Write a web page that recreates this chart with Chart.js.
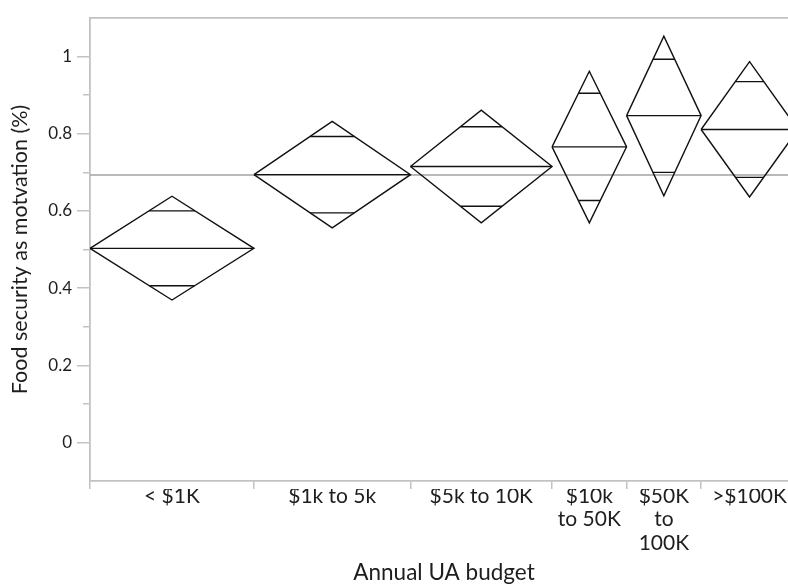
<!DOCTYPE html>
<html>
<head>
<meta charset="utf-8">
<script src="https://cdn.jsdelivr.net/npm/chart.js@4.4.1/dist/chart.umd.min.js"></script>
<style>
  html, body { margin: 0; padding: 0; background: #fff; overflow: hidden; }
  #wrap { width: 788px; height: 585px; overflow: hidden; position: relative; }
  canvas { display: block; }
</style>
</head>
<body>
<div id="wrap"><canvas id="c" width="800" height="585"></canvas></div>
<script>
// Budget groups and their tick labels
const categories = ['< $1K', '$1k to 5k', '$5k to 10K', '$10k to 50K', '$50K to 100K', '>$100K'];
const tickLabels = [['< $1K'], ['$1k to 5k'], ['$5k to 10K'], ['$10k', 'to 50K'], ['$50K', 'to', '100K'], ['>$100K']];

// Group sizes (diamond widths), means and 95% confidence limits
const groupSizes   = [22, 21, 19, 10, 10, 13];
const groupMeans   = [0.503, 0.694, 0.715, 0.766, 0.847, 0.811];
const ciUpper      = [0.638, 0.832, 0.861, 0.962, 1.053, 0.987];
const ciLower      = [0.369, 0.556, 0.569, 0.569, 0.639, 0.636];
// Overlap marks inside each diamond
const overlapUpper = [0.600, 0.793, 0.818, 0.905, 0.993, 0.935];
const overlapLower = [0.406, 0.595, 0.612, 0.627, 0.700, 0.687];
const grandMean = 0.693;

// Y axis ticks
const yMajorTicks = [0, 0.2, 0.4, 0.6, 0.8, 1];
const yMinorTicks = [0.1, 0.3, 0.5, 0.7, 0.9];
const yTickText   = ['0', '0.2', '0.4', '0.6', '0.8', '1'];

// Group extents along the x scale (width proportional to group size)
const total = groupSizes.reduce((a, b) => a + b, 0);
const starts = [];
let acc = 0;
groupSizes.forEach(n => { starts.push(acc); acc += n; });
const bounds = starts.concat([total]);
const centers = starts.map((s, i) => s + groupSizes[i] / 2);

const FONT = 'Lato, "Open Sans", sans-serif';
const AXIS_GRAY = '#c2c2c2';
const INK = '#111';
const TEXT = '#1e1e1e';

const datasets = [];
datasets.push({
  label: 'Grand mean',
  data: [{ x: 0, y: grandMean }, { x: total, y: grandMean }],
  borderColor: '#a2a2a2',
  borderWidth: 1.6,
  order: 10
});

categories.forEach((cat, i) => {
  const l = starts[i], r = l + groupSizes[i], c = centers[i], m = groupMeans[i];
  const half = groupSizes[i] / 2;
  // diamond outline
  datasets.push({
    label: cat,
    data: [{ x: l, y: m }, { x: c, y: ciUpper[i] }, { x: r, y: m }, { x: c, y: ciLower[i] }, { x: l, y: m }],
    borderColor: INK,
    borderWidth: 1.4,
    order: 1
  });
  // mean line and overlap marks; the diamond narrows linearly toward its tips
  const hu = half * (ciUpper[i] - overlapUpper[i]) / (ciUpper[i] - m);
  const hl = half * (overlapLower[i] - ciLower[i]) / (m - ciLower[i]);
  datasets.push({
    label: cat + ' marks',
    data: [
      { x: l, y: m }, { x: r, y: m }, { x: c, y: null },
      { x: c - hu, y: overlapUpper[i] }, { x: c + hu, y: overlapUpper[i] }, { x: c, y: null },
      { x: c - hl, y: overlapLower[i] }, { x: c + hl, y: overlapLower[i] }
    ],
    borderColor: INK,
    borderWidth: 1.4,
    spanGaps: false,
    order: 1
  });
});

new Chart(document.getElementById('c'), {
  type: 'line',
  data: { datasets },
  options: {
    responsive: false,
    animation: false,
    devicePixelRatio: 1,
    layout: { padding: { top: 10, right: 2, left: 0, bottom: 0 } },
    elements: { point: { radius: 0, hoverRadius: 0 }, line: { tension: 0, fill: false } },
    plugins: { legend: { display: false }, tooltip: { enabled: false } },
    scales: {
      x: {
        type: 'linear', position: 'bottom', weight: 2,
        min: 0, max: total,
        grid: { display: false, drawTicks: false },
        border: { display: false },
        afterBuildTicks: s => { s.ticks = centers.map(v => ({ value: v })); },
        afterFit: s => { s.height = 96; },
        ticks: {
          autoSkip: false, maxRotation: 0, minRotation: 0, padding: -4,
          color: TEXT, font: { family: FONT, size: 21, lineHeight: 1.1 },
          callback: (v, i) => tickLabels[i]
        },
        title: {
          display: true, text: 'Annual UA budget', color: TEXT,
          font: { family: FONT, size: 22.5, lineHeight: 1.1 }, padding: { top: 0, bottom: 0 }
        }
      },
      xb: {
        type: 'linear', position: 'bottom', weight: 1,
        min: 0, max: total,
        afterBuildTicks: s => { s.ticks = bounds.map(v => ({ value: v })); },
        grid: { display: true, drawOnChartArea: false, drawTicks: true, tickLength: 8, color: AXIS_GRAY, lineWidth: 1.5 },
        border: { display: true, color: AXIS_GRAY, width: 1.8 },
        ticks: { display: false }
      },
      xTop: {
        type: 'linear', position: 'top',
        min: 0, max: total,
        grid: { display: false },
        border: { display: true, color: AXIS_GRAY, width: 1.8 },
        ticks: { display: false }
      },
      yMinor: {
        type: 'linear', position: 'left', weight: 1,
        min: -0.1, max: 1.1,
        afterBuildTicks: s => { s.ticks = yMajorTicks.concat(yMinorTicks).map(v => ({ value: v })); },
        grid: { display: true, drawOnChartArea: false, drawTicks: true, tickLength: 7, color: AXIS_GRAY, lineWidth: 1.5 },
        border: { display: true, color: AXIS_GRAY, width: 1.8 },
        ticks: { display: false }
      },
      y: {
        type: 'linear', position: 'left', weight: 2,
        min: -0.1, max: 1.1,
        afterBuildTicks: s => { s.ticks = yMajorTicks.map(v => ({ value: v })); },
        afterFit: s => { s.width = 83; },
        grid: { display: true, drawOnChartArea: false, drawTicks: true, tickLength: 6, color: AXIS_GRAY, lineWidth: 1.5 },
        border: { display: false },
        ticks: {
          padding: 5, color: TEXT, font: { family: FONT, size: 17 },
          callback: (v, i) => yTickText[i]
        },
        title: {
          display: true, text: 'Food security as motvation (%)', color: TEXT,
          font: { family: FONT, size: 21.5, lineHeight: 1.2 }, padding: { top: 7, bottom: 0 }
        }
      }
    }
  }
});
</script>
</body>
</html>
